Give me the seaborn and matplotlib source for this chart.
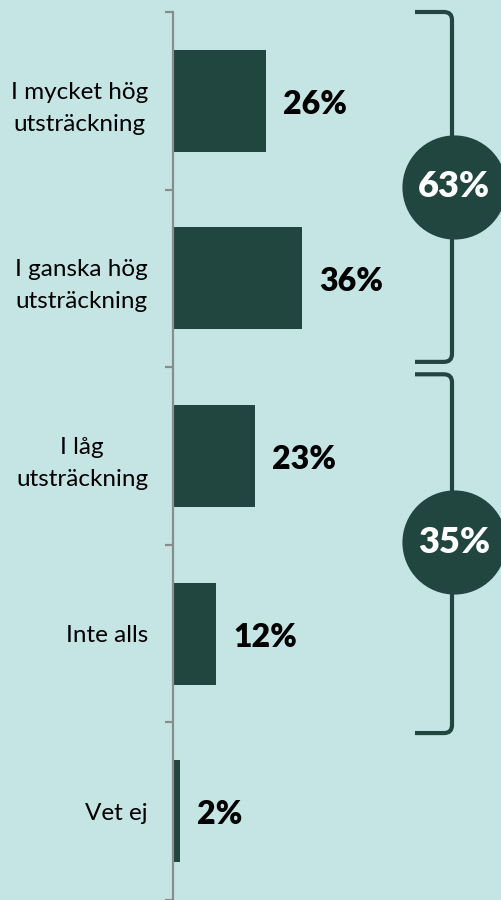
import numpy as np
import pandas as pd
import seaborn as sns
import matplotlib.pyplot as plt
from matplotlib.path import Path
from matplotlib.patches import PathPatch

# dados
categorias = ["I mycket hög\nutsträckning", "I ganska hög\nutsträckning",
              "I låg\nutsträckning", "Inte alls", "Vet ej"]
valores = [26, 36, 23, 12, 2]
# grupos (texto, primeira categoria, última categoria)
grupos = [("63%", 0, 1), ("35%", 2, 3)]

bg = "#c5e5e4"
escuro = "#21463f"
cinza = "#8c8c8c"

sns.set_theme(style="white")
plt.rcParams['font.family'] = ['Lato', 'DejaVu Sans']

df = pd.DataFrame({"cat": categorias, "val": valores})

fig = plt.figure(figsize=(5.01, 9), dpi=100, facecolor=bg)
ax = fig.add_axes([173 / 501, 0, 328 / 501, 888 / 900])
ax.set_facecolor(bg)

sns.barplot(data=df, x="val", y="cat", color=escuro, saturation=1,
            width=0.575, linewidth=0, ax=ax)

px_por_pct = 3.58
ax.set_xlim(0, 328 / px_por_pct)
ax.set_ylim(4.5, -0.5)

for s in ["top", "right", "bottom"]:
    ax.spines[s].set_visible(False)
ax.spines["left"].set_color(cinza)
ax.spines["left"].set_linewidth(1.6)
ax.set_xticks([])
ax.set_xlabel("")
ax.set_ylabel("")

# ticks nas fronteiras das categorias
ax.set_yticks(np.arange(len(categorias)))
ax.set_yticklabels(categorias, fontsize=17.5, color="black")
ax.set_yticks(np.arange(-0.5, len(categorias)), minor=True)
ax.tick_params(axis="y", which="major", length=0, pad=18)
ax.tick_params(axis="y", which="minor", length=6, width=1.6, color=cinza, left=True)
for lab in ax.get_yticklabels():
    lab.set_multialignment("center")
    lab.set_linespacing(1.65)

# rótulos de valores
for i, v in enumerate(valores):
    ax.text(v + 17 / px_por_pct, i + 0.02, f"{v}%", va="center", ha="left",
            fontsize=23, fontweight="heavy", color="black")

# chaves e círculos
x_chave = (452 - 173) / px_por_pct
x_ponta = (415 - 173) / px_por_pct
dx = 8 / px_por_pct
dy = 8 / 177.6
spans = {0: (-0.5, 1.47), 2: (1.54, 3.56)}
for texto, i0, i1 in grupos:
    lo, hi = spans[i0]
    verts = [(x_ponta, lo), (x_chave - dx, lo), (x_chave, lo),
             (x_chave, lo + dy), (x_chave, hi - dy), (x_chave, hi),
             (x_chave - dx, hi), (x_ponta, hi)]
    codes = [Path.MOVETO, Path.LINETO, Path.CURVE3, Path.CURVE3,
             Path.LINETO, Path.CURVE3, Path.CURVE3, Path.LINETO]
    ax.add_patch(PathPatch(Path(verts, codes), fill=False, edgecolor=escuro,
                           lw=3, capstyle="butt", clip_on=False))
    yc = (i0 + i1) / 2 - 0.015
    xc = (454 - 173) / px_por_pct
    ax.scatter([xc], [yc], s=75 ** 2, color=escuro, zorder=5, clip_on=False,
               linewidths=0)
    ax.text(xc, yc, texto, ha="center", va="center", color="white",
            fontsize=26, fontweight="heavy", zorder=6)

fig.savefig("out.png", dpi=100, facecolor=bg)
